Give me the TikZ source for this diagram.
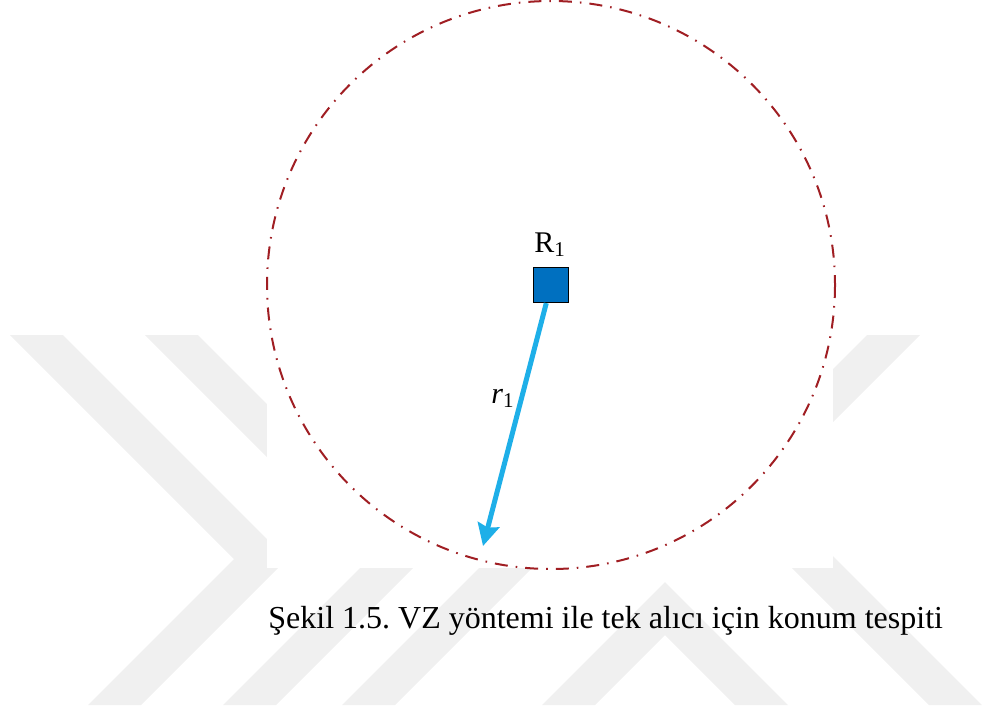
\documentclass[tikz,border=0pt]{standalone}
\usepackage{fontspec}
\setmainfont{Liberation Serif}
\usepackage{xcolor}
\usetikzlibrary{positioning,calc}
\usetikzlibrary{arrows.meta}
\definecolor{ringred}{RGB}{160,30,35}
\definecolor{boxblue}{RGB}{0,112,192}
\definecolor{rangeblue}{RGB}{30,175,232}
\definecolor{wmgray}{RGB}{240,240,240}
\tikzset{
	receiver/.style={rectangle,draw=black,line width=0.6pt,fill=boxblue,minimum size=17.5pt,inner sep=0pt},
	ring/.style={draw=ringred,line width=1pt,dash pattern=on 6.5pt off 4pt on 0.8pt off 4pt},
	rangevec/.style={draw=rangeblue,line width=2.5pt,-{Stealth[length=11pt,width=11pt,inset=1.5pt]}},
	wmband/.style={fill=wmgray,draw=none},
	lbl/.style={inner sep=0pt,font=\fontsize{15}{18}\selectfont},
	capt/.style={inner sep=0pt,font=\fontsize{16}{19}\selectfont},
}

\begin{document}
\frenchspacing
\begin{tikzpicture}[x=0.5pt,y=-0.5pt]
	\useasboundingbox (0,0) rectangle (984,709);
	
	% Watermark chevrons
	\foreach \dx in {0,135}{
		\fill[wmband] (10+\dx,335) -- (63+\dx,335) -- (287+\dx,559) -- (141+\dx,705) -- (88+\dx,705) -- (234+\dx,559) -- cycle;
	}
	\fill[wmband] (662,385) -- (982,705) -- (929,705) -- (662,438) -- (395,705) -- (342,705) -- cycle;
	\fill[wmband] (665,582) -- (788,705) -- (735,705) -- (665,635) -- (595,705) -- (542,705) -- cycle;
	\fill[wmband] (867,335) -- (920,335) -- (780,475) -- (727,475) -- cycle;
	
	% Figure panel
	\fill[white] (267,0) rectangle (833,568);
	
	% Receiver and range circle
	\node[receiver] (recv) at (551,285) {};
	\draw[ring] (recv.center) circle[radius=284];
	\node[lbl,anchor=base] (recvlbl) at (550,252) {R\textsubscript{1}};
	
	% Range vector
	\coordinate (tip) at (483,546);
	\draw[rangevec] (recv) -- (tip);
	\node[lbl,anchor=base] (rangelbl) at (503,403) {\textit{r}\textsubscript{1}};
	
	% Caption
	\node[capt,anchor=base west] (figcap) at (268,628) {Şekil 1.5. VZ yöntemi ile tek alıcı için konum tespiti};
	
\end{tikzpicture}
\end{document}
